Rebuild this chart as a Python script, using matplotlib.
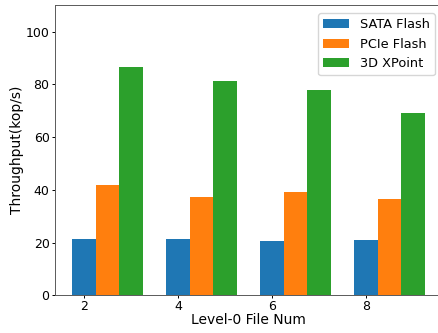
import numpy as np
import matplotlib.pyplot as plt

# level-0 file num vs throughput
file_num = [2, 4, 6, 8]
sata = [21.4, 21.3, 20.6, 21.1]
pcie = [41.7, 37.4, 39.0, 36.6]
xpoint = [86.7, 81.1, 77.7, 69.3]

x = np.array(file_num)
w = 0.5

fig = plt.figure(figsize=(4.39, 3.33), dpi=100)
ax = fig.add_axes([54.7 / 439, 37.7 / 333, 387.8 / 439, 290 / 333])

ax.bar(x, sata, w, label='SATA Flash', color='#1f77b4')
ax.bar(x + w, pcie, w, label='PCIe Flash', color='#ff7f0e')
ax.bar(x + 2 * w, xpoint, w, label='3D XPoint', color='#2ca02c')

ax.set_xlim(1.375, 9.625)
ax.set_ylim(0, 110)
ax.set_xticks(file_num)
ax.tick_params(labelsize=9, length=2.5, width=0.7, pad=1.2)
for s in ax.spines.values():
    s.set_linewidth(0.7)
    s.set_color('0.35')
ax.set_xlabel('Level-0 File Num', fontsize=10, labelpad=0)
ax.set_ylabel('Throughput(kop/s)', fontsize=10, labelpad=1)
ax.legend(loc='upper right', fontsize=9.3, borderaxespad=0.6)

fig.savefig('out.png', dpi=100)
